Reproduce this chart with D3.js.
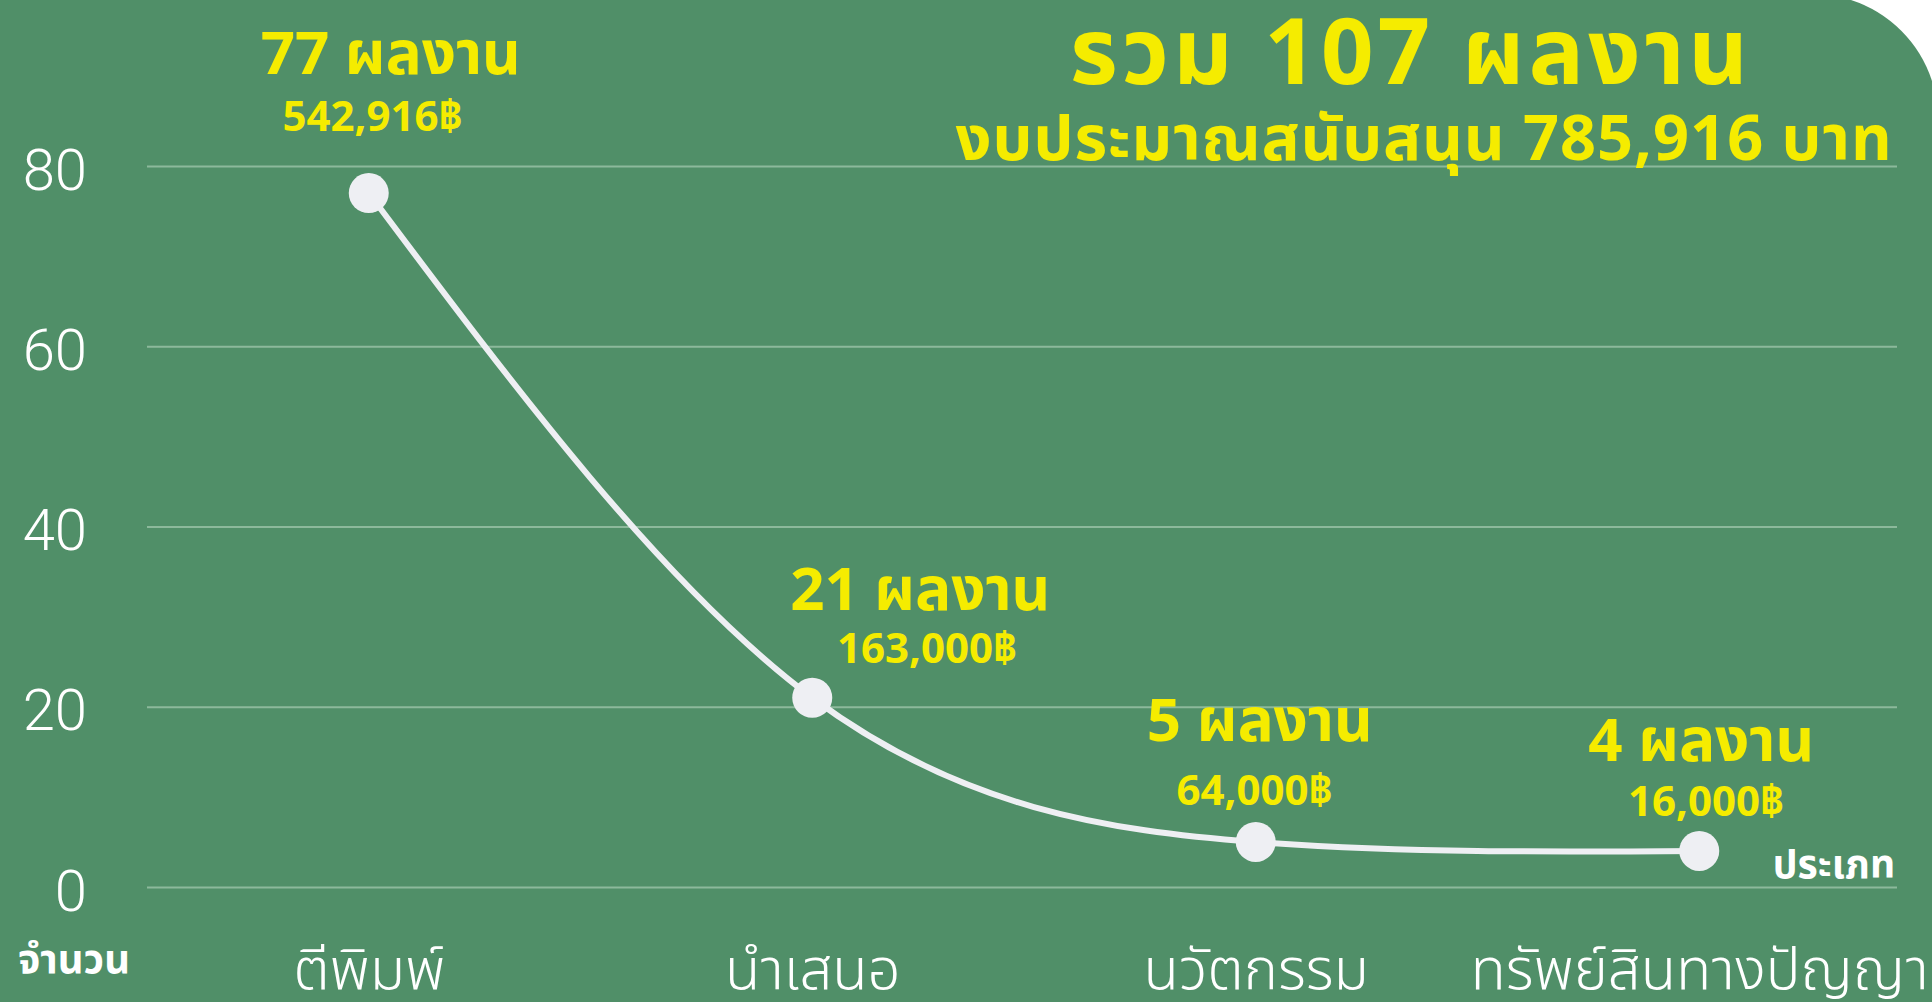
<!DOCTYPE html>
<html>
<head>
<meta charset="utf-8">
<script src="https://cdn.jsdelivr.net/npm/d3@7"></script>
<style>
  html, body { margin: 0; padding: 0; background: #ffffff; }
  svg { display: block; }
  text { font-family: "Noto Sans Thai", "Noto Sans Thai Looped", "Loma", "Garuda", "Noto Sans", sans-serif; }
  .y-axis text { font-family: Roboto, "Noto Sans", sans-serif; font-weight: 300; fill: #ffffff; font-size: 58px; }
  .x-axis text { fill: #ffffff; font-size: 58px; font-weight: 300; }
  .lbl-count { fill: #f5ec00; font-weight: 700; font-size: 60px; }
  .lbl-budget { fill: #f5ec00; font-weight: 700; font-size: 42px; }
</style>
</head>
<body>
<svg id="chart"></svg>
<script>
// data
const categories = ['ตีพิมพ์', 'นำเสนอ', 'นวัตกรรม', 'ทรัพย์สินทางปัญญา'];
const counts = [77, 21, 5, 4];
const budgets = [542916, 163000, 64000, 16000];
const yTicks = [0, 20, 40, 60, 80];
const titleText = 'รวม 107 ผลงาน';
const subtitleText = 'งบประมาณสนับสนุน 785,916 บาท';
const yTitle = 'จำนวน';
const xTitle = 'ประเภท';

const width = 1932, height = 1002;
const green = '#508f68';

const svg = d3.select('#chart')
  .attr('width', width)
  .attr('height', height);

// green panel with the rounded top right corner
svg.append('path')
  .attr('d', `M0,0 L1851,0 A126,126 0 0,1 ${width},81 L${width},${height} L0,${height} Z`)
  .attr('fill', green);

const x = d3.scalePoint()
  .domain(categories)
  .range([147, 1921])
  .padding(0.5);

const y = d3.scaleLinear()
  .domain([0, 80])
  .range([887, 166]);

// gridlines + y labels
const yAxis = d3.axisLeft(y)
  .tickValues(yTicks)
  .tickSize(-(1897 - 147))
  .tickPadding(60);

svg.append('g')
  .attr('class', 'y-axis')
  .attr('transform', 'translate(147,0)')
  .call(yAxis)
  .call(g => g.select('.domain').remove())
  .call(g => g.selectAll('.tick line')
    .attr('stroke', '#8cb99b')
    .attr('stroke-width', 2))
  .call(g => g.selectAll('.tick text').attr('dy', '0.4em'));

// category labels
const xAxis = d3.axisBottom(x).tickSize(0).tickPadding(0);
svg.append('g')
  .attr('class', 'x-axis')
  .attr('transform', 'translate(0,887)')
  .call(xAxis)
  .call(g => g.select('.domain').remove())
  .call(g => g.selectAll('.tick text').attr('y', 102).attr('dy', 0));

const rows = categories.map((c, i) => ({ cat: c, count: counts[i], budget: budgets[i] }));

// the line
const line = d3.line()
  .x(d => x(d.cat))
  .y(d => y(d.count))
  .curve(d3.curveNatural);

svg.append('path')
  .datum(rows)
  .attr('d', line)
  .attr('fill', 'none')
  .attr('stroke', '#eeeff3')
  .attr('stroke-width', 6);

svg.selectAll('.point')
  .data(rows)
  .join('circle')
  .attr('class', 'point')
  .attr('cx', d => x(d.cat))
  .attr('cy', d => y(d.count))
  .attr('r', 20)
  .attr('fill', '#eeeff3');

// value labels, offsets relative to each point
const countOff = [[22, -119], [108, -88], [4, -101], [2, -90]];
const budgetOff = [[4, -62], [115, -35], [-1, -37], [7, -35]];
const fmt = d3.format(',');

svg.selectAll('.lbl-count')
  .data(rows)
  .join('text')
  .attr('class', 'lbl-count')
  .attr('text-anchor', 'middle')
  .attr('x', (d, i) => x(d.cat) + countOff[i][0])
  .attr('y', (d, i) => y(d.count) + countOff[i][1])
  .text(d => `${d.count} ผลงาน`);

svg.selectAll('.lbl-budget')
  .data(rows)
  .join('text')
  .attr('class', 'lbl-budget')
  .attr('text-anchor', 'middle')
  .attr('x', (d, i) => x(d.cat) + budgetOff[i][0])
  .attr('y', (d, i) => y(d.count) + budgetOff[i][1])
  .text(d => `${fmt(d.budget)}฿`);

// titles
svg.append('text')
  .attr('x', 1411).attr('y', 84)
  .attr('text-anchor', 'middle')
  .attr('fill', '#f5ec00')
  .style('font-size', '92px').style('font-weight', 700)
  .style('letter-spacing', '4px')
  .text(titleText);

svg.append('text')
  .attr('x', 1424).attr('y', 160)
  .attr('text-anchor', 'middle')
  .attr('fill', '#f5ec00')
  .style('font-size', '63px').style('font-weight', 700)
  .style('letter-spacing', '1px')
  .text(subtitleText);

// axis titles
svg.append('text')
  .attr('x', 18).attr('y', 973)
  .attr('fill', '#ffffff')
  .style('font-size', '40px').style('font-weight', 700)
  .text(yTitle);

svg.append('text')
  .attr('x', 1895).attr('y', 878)
  .attr('text-anchor', 'end')
  .attr('fill', '#ffffff')
  .style('font-size', '39px').style('font-weight', 700)
  .text(xTitle);
</script>
</body>
</html>
